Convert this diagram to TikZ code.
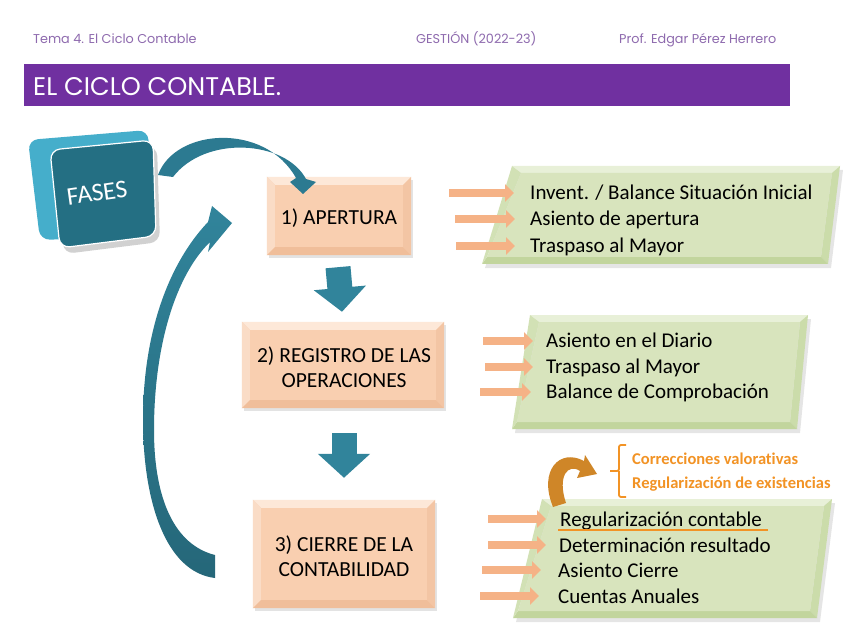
\documentclass[tikz,border=0pt]{standalone}
\usepackage{fontspec}
\setmainfont{Carlito}[Ligatures={NoCommon}]
\newfontfamily\hdrfont{Poppins}
\usetikzlibrary{arrows.meta,calc,shadows}
\definecolor{purp}{HTML}{7030A0}
\definecolor{hdrtxt}{HTML}{8E6AAE}
\definecolor{tealA}{HTML}{31849B}
\definecolor{tealB}{HTML}{2C7A91}
\definecolor{tealC}{HTML}{256779}
\definecolor{tealdark}{HTML}{246F83}
\definecolor{teallight}{HTML}{45AECB}
\definecolor{peach}{HTML}{F9CFB0}
\definecolor{peachtop}{HTML}{FDE8D8}
\definecolor{peachleft}{HTML}{FADCC6}
\definecolor{peachbot}{HTML}{F0BE9A}
\definecolor{peachright}{HTML}{F3C5A4}
\definecolor{gmid}{HTML}{D8E4BD}
\definecolor{gtop}{HTML}{E8F0D8}
\definecolor{gleft}{HTML}{D2E1B5}
\definecolor{gbot}{HTML}{C2D59D}
\definecolor{gright}{HTML}{CBDCAA}
\definecolor{oarrow}{HTML}{F5B286}
\definecolor{otext}{HTML}{F29325}
\definecolor{obrown}{HTML}{CF8628}

\newcommand\bevpeach[1]{%
 \fill[peachtop] (#1.north west) -- (#1.north east) -- ([shift={(-8pt,-8pt)}]#1.north east) -- ([shift={(8pt,-8pt)}]#1.north west) -- cycle;
 \fill[peachleft] (#1.north west) -- ([shift={(8pt,-8pt)}]#1.north west) -- ([shift={(8pt,8pt)}]#1.south west) -- (#1.south west) -- cycle;
 \fill[peachbot] (#1.south west) -- ([shift={(8pt,8pt)}]#1.south west) -- ([shift={(-8pt,8pt)}]#1.south east) -- (#1.south east) -- cycle;
 \fill[peachright] (#1.north east) -- ([shift={(-8pt,-8pt)}]#1.north east) -- ([shift={(-8pt,8pt)}]#1.south east) -- (#1.south east) -- cycle;
}
\newcommand\gpar[8]{%
 \fill[black,opacity=0.10] ({#1+3},{#2+4}) -- ({#3+3},{#4+4}) -- ({#5+3},{#6+4}) -- ({#7+3},{#8+4}) -- cycle;
 \fill[gtop] (#1,#2) -- (#3,#4) -- ({#3-8},{#4+7}) -- ({#1+9},{#2+7}) -- cycle;
 \fill[gright] (#3,#4) -- (#5,#6) -- ({#5-7},{#6-7}) -- ({#3-8},{#4+7}) -- cycle;
 \fill[gbot] (#5,#6) -- (#7,#8) -- ({#7+5},{#8-7}) -- ({#5-7},{#6-7}) -- cycle;
 \fill[gleft] (#7,#8) -- (#1,#2) -- ({#1+9},{#2+7}) -- ({#7+5},{#8-7}) -- cycle;
 \fill[gmid] ({#1+9},{#2+7}) -- ({#3-8},{#4+7}) -- ({#5-7},{#6-7}) -- ({#7+5},{#8-7}) -- cycle;
}

\tikzset{
 hdr/.style={anchor=base west, inner sep=0pt, text=hdrtxt, font=\hdrfont\fontsize{12.8}{14}\selectfont},
 pbox/.style={rectangle, fill=peach, inner sep=0pt,
   drop shadow={opacity=0.22, shadow xshift=2pt, shadow yshift=-3pt}},
 ptext/.style={rectangle, inner sep=0pt, align=center, font=\fontsize{21.5}{25}\selectfont},
 gtext/.style={anchor=base west, inner sep=0pt, font=\fontsize{21}{24}\selectfont},
 otxt/.style={anchor=base west, inner sep=0pt, text=otext, font=\bfseries\fontsize{16.5}{18}\selectfont},
 oarr/.style={draw=oarrow, line width=8pt, -{Triangle[width=17pt,length=9pt]}},
 downarr/.style={draw=tealA, line width=25pt, -{Triangle[width=51pt,length=24pt]}}
}

\begin{document}
\begin{tikzpicture}[x=1pt,y=-1pt]
\useasboundingbox (0,0) rectangle (848,636);
\fill[white] (0,0) rectangle (848,636);

% header
\node[hdr] (h1) at (33,43.5) {Tema 4. El Ciclo Contable};
\node[hdr] (h2) at (416,43.5) {GESTIÓN (2022-23)};
\node[hdr] (h3) at (619,43.5) {Prof. Edgar Pérez Herrero};
\node[fill=purp, minimum width=766pt, minimum height=42pt, inner sep=0pt, anchor=north west] (bar) at (24,64) {};
\node[anchor=base west, inner sep=0pt, text=white, font=\hdrfont\fontsize{25.5}{28}\selectfont] (title) at (33,95.5) {EL CICLO CONTABLE.};

% FASES block
\fill[black, opacity=0.18, rounded corners=10pt] (54,156) -- (157,146) -- (160,242) -- (64,254) -- cycle;
\fill[teallight, rounded corners=10pt] (28,140) -- (148,130) -- (153,236) -- (40,240) -- cycle;
\draw[white, line width=1.2pt, fill=tealdark, rounded corners=10pt] (50,150) -- (153,140) -- (156,236) -- (60,248) -- cycle;
\node[rotate=8, text=white, font=\fontsize{25.5}{28}\selectfont, inner sep=0pt] (fases) at (97,193) {FASES};

% peach boxes
\node[pbox, minimum width=144pt, minimum height=78pt] (b1) at (339,216) {};
\bevpeach{b1}
\node[ptext] (l1) at (339,218) {1) APERTURA};
\node[pbox, minimum width=202pt, minimum height=86pt] (b2) at (343,365) {};
\bevpeach{b2}
\node[ptext] (l2) at (344,367) {2) REGISTRO DE LAS\\OPERACIONES};
\node[pbox, minimum width=182pt, minimum height=108pt] (b3) at (344,554) {};
\bevpeach{b3}
\node[ptext] (l3) at (344,556) {3) CIERRE DE LA\\CONTABILIDAD};

% down arrows
\draw[downarr] ([shift={(-1pt,-12pt)}]b1.south) -- ([shift={(-1pt,10pt)}]b2.north);
\draw[downarr] ([shift={(1pt,-25pt)}]b2.south) -- ([shift={(0pt,22pt)}]b3.north);

% curved teal arrows
\fill[tealB] (158,175) .. controls (175,128) and (265,122) .. (296,178) -- (290,182) -- (303,194) -- (316,182) -- (306,179) .. controls (285,140) and (205,135) .. (173,177) -- cycle;
\shade[top color=tealA, bottom color=tealC] (215,578) .. controls (165,572) and (143,500) .. (143,420) .. controls (143,330) and (170,262) .. (208,222) -- (212,206) -- (232,223) -- (208,252) -- (210,242) .. controls (176,275) and (154,345) .. (154,430) .. controls (154,500) and (175,545) .. (215,555) -- cycle;

% green parallelograms
\gpar{512}{166}{840}{166}{828}{264}{482}{264}
\gpar{530}{315}{808}{315}{797}{429}{512}{429}
\gpar{542}{499}{832}{499}{817}{618}{513}{618}

% texts in parallelograms
\node[gtext] (t11) at (530,200) {Invent. / Balance Situación Inicial};
\node[gtext] (t12) at (530,226) {Asiento de apertura};
\node[gtext] (t13) at (530,252) {Traspaso al Mayor};
\node[gtext] (t21) at (546,347) {Asiento en el Diario};
\node[gtext] (t22) at (546,373) {Traspaso al Mayor};
\node[gtext] (t23) at (546,398) {Balance de Comprobación};
\node[gtext] (t31) at (560,526) {Regularización contable};
\node[gtext] (t32) at (559,552) {Determinación resultado};
\node[gtext] (t33) at (558,577) {Asiento Cierre};
\node[gtext] (t34) at (558,603) {Cuentas Anuales};
\draw[otext, line width=2.5pt] (558,530) -- (768,530);

% orange arrows
\coordinate (a1s) at (449,193); \coordinate (a1e) at (514,193);
\coordinate (a2s) at (455,219); \coordinate (a2e) at (515,219);
\coordinate (a3s) at (456,246); \coordinate (a3e) at (515,246);
\coordinate (a4s) at (483,341); \coordinate (a4e) at (533,341);
\coordinate (a5s) at (485,367); \coordinate (a5e) at (533,367);
\coordinate (a6s) at (480,392); \coordinate (a6e) at (531,392);
\coordinate (a7s) at (488,519); \coordinate (a7e) at (546,519);
\coordinate (a8s) at (488,545); \coordinate (a8e) at (546,545);
\coordinate (a9s) at (482,570); \coordinate (a9e) at (541,570);
\coordinate (a10s) at (480,596); \coordinate (a10e) at (539,596);
\foreach \i in {1,...,10} {\draw[oarr] (a\i s) -- (a\i e);}

% orange curved arrow, brace and notes
\fill[obrown] (553,507) .. controls (538,470) and (560,448) .. (584,461) -- (585,455) -- (597,474) -- (577,478) -- (580,471) .. controls (568,463) and (557,476) .. (566,503) -- cycle;
\draw[otext, line width=1.8pt, rounded corners=2pt] (626,445) -| (619,471) -- (610,471);
\draw[otext, line width=1.8pt, rounded corners=2pt] (619,471) |- (626,497);
\node[otxt] (c1) at (632,464.5) {Correcciones valorativas};
\node[otxt] (c2) at (632,488.5) {Regularización de existencias};
\end{tikzpicture}
\end{document}
